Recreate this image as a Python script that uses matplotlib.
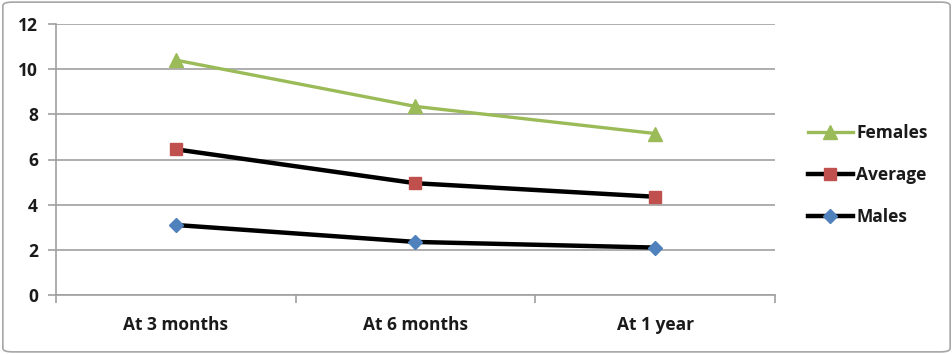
import numpy as np
import matplotlib.pyplot as plt
from matplotlib.patches import FancyBboxPatch

# chart data
categories = ["At 3 months", "At 6 months", "At 1 year"]
females = [10.4, 8.35, 7.15]
average = [6.45, 4.95, 4.35]
males = [3.1, 2.35, 2.1]
yticks = [0, 2, 4, 6, 8, 10, 12]

plt.rcParams['font.family'] = ['Open Sans', 'DejaVu Sans']
plt.rcParams['font.weight'] = 'bold'

fig = plt.figure(figsize=(9.53, 3.54), dpi=100)
ax = fig.add_axes([56/953, 59/354, 719/953, 271/354])

# outer frame
fig.patches.append(FancyBboxPatch((0.003, 0.006), 0.994, 0.988,
                                  boxstyle="round,pad=0,rounding_size=0.01",
                                  transform=fig.transFigure, fill=False,
                                  edgecolor="#a6a6a6", linewidth=1.2))

x = np.arange(len(categories))
ax.plot(x, females, color="#9bbb59", lw=2.4, marker="^", ms=10,
        mfc="#9bbb59", mec="#9bbb59", label="Females", zorder=3)
ax.plot(x, average, color="black", lw=3.2, marker="s", ms=9,
        mfc="#c0504d", mec="#c0504d", label="Average", zorder=3)
ax.plot(x, males, color="black", lw=3.2, marker="D", ms=7.5,
        mfc="#4f81bd", mec="#4f81bd", label="Males", zorder=3)

ax.set_xlim(-0.5, 2.5)
ax.set_ylim(0, 12)
ax.set_yticks(yticks)
ax.set_xticks(x)
ax.set_xticklabels(categories)
ax.set_xticks([-0.5, 0.5, 1.5, 2.5], minor=True)
ax.yaxis.grid(True, color="#a0a0a0", lw=1.2)
ax.set_axisbelow(True)

for s in ["top", "right"]:
    ax.spines[s].set_visible(False)
for s in ["left", "bottom"]:
    ax.spines[s].set_color("#a0a0a0")
    ax.spines[s].set_linewidth(1.2)

ax.tick_params(axis="y", length=6, width=1.2, color="#a0a0a0",
               labelsize=12.5, pad=7, labelcolor="#1a1a1a")
ax.tick_params(axis="x", which="major", length=0, labelsize=12.5,
               pad=15, labelcolor="#1a1a1a")
ax.tick_params(axis="x", which="minor", length=6, width=1.2, color="#a0a0a0")

handles, labels = ax.get_legend_handles_labels()
leg = fig.legend(handles, labels, loc="center left",
                 bbox_to_anchor=(792/953, 179/354), frameon=False,
                 fontsize=12.5, handlelength=2.6, labelspacing=1.38,
                 handletextpad=0.2)
for t in leg.get_texts():
    t.set_color("#1a1a1a")

fig.savefig("out.png", dpi=100)
